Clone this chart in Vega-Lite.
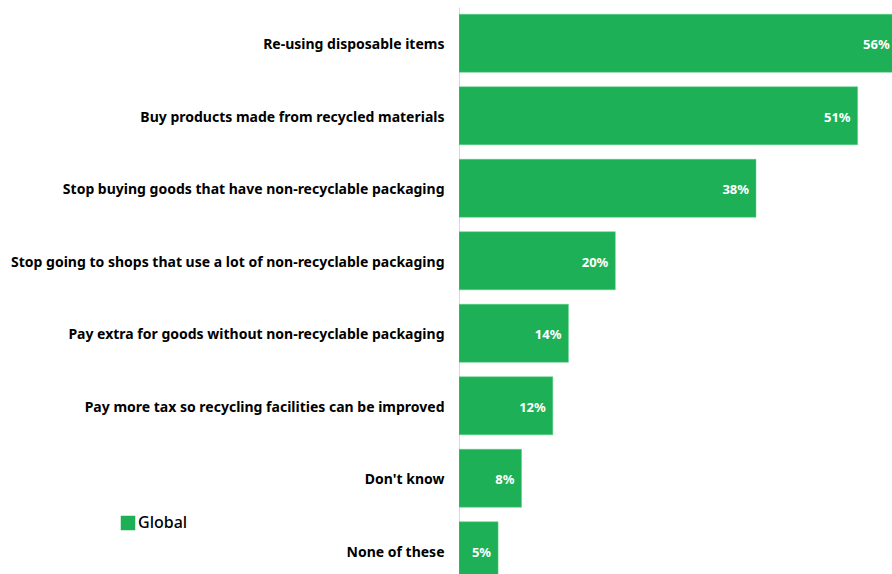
{
  "$schema": "https://vega.github.io/schema/vega-lite/v6.json",
  "width": 433,
  "height": 580,
  "autosize": {"type": "none"},
  "padding": {"left": 459, "top": 7, "right": 0, "bottom": 0},
  "background": "white",
  "config": {"view": {"stroke": null}, "font": "Noto Sans"},
  "data": {
    "values": [
      {"option": "Re-using disposable items", "value": 0.56, "series": "Global"},
      {"option": "Buy products made from recycled materials", "value": 0.51, "series": "Global"},
      {"option": "Stop buying goods that have non-recyclable packaging", "value": 0.38, "series": "Global"},
      {"option": "Stop going to shops that use a lot of non-recyclable packaging", "value": 0.20, "series": "Global"},
      {"option": "Pay extra for goods without non-recyclable packaging", "value": 0.14, "series": "Global"},
      {"option": "Pay more tax so recycling facilities can be improved", "value": 0.12, "series": "Global"},
      {"option": "Don't know", "value": 0.08, "series": "Global"},
      {"option": "None of these", "value": 0.05, "series": "Global"}
    ]
  },
  "encoding": {
    "y": {
      "field": "option",
      "type": "nominal",
      "sort": null,
      "scale": {"paddingInner": 0.2, "paddingOuter": 0.1},
      "axis": {
        "title": null,
        "ticks": false,
        "domainColor": "#d9d9d9",
        "domainWidth": 1,
        "labelPadding": 15,
        "labelOffset": 2,
        "labelFont": "Noto Sans",
        "labelFontWeight": "bold",
        "labelFontSize": 14,
        "labelColor": "#000000",
        "labelLimit": 460
      }
    },
    "x": {
      "field": "value",
      "type": "quantitative",
      "scale": {"domain": [0, 0.554], "nice": false, "zero": true},
      "axis": null
    }
  },
  "layer": [
    {
      "mark": {"type": "bar", "clip": true, "stroke": "#5ccf88", "strokeWidth": 0.5},
      "encoding": {
        "color": {
          "field": "series",
          "type": "nominal",
          "scale": {"range": ["#1db056"]},
          "legend": {
            "title": null,
            "orient": "none",
            "legendX": -339,
            "legendY": 508,
            "symbolType": "square",
            "symbolSize": 210,
            "symbolStrokeWidth": 0,
            "labelFontSize": 16,
            "labelFont": "Noto Sans",
            "labelColor": "#000000",
            "labelOffset": 2,
            "labelBaseline": "middle",
            "labelFontWeight": 500
          }
        }
      }
    },
    {
      "mark": {"type": "text", "align": "right", "baseline": "middle", "dx": -7, "dy": 2, "fontWeight": "bold", "fontSize": 13, "color": "white", "font": "Noto Sans"},
      "encoding": {
        "text": {"field": "value", "type": "quantitative", "format": ".0%"}
      }
    }
  ]
}
